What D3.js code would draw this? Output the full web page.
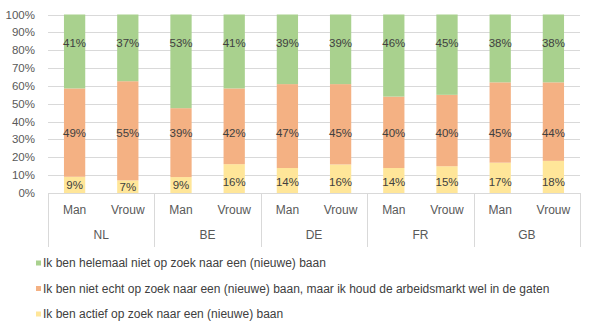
<!DOCTYPE html>
<html>
<head>
<meta charset="utf-8">
<script src="https://cdn.jsdelivr.net/npm/d3@7"></script>
<style>
  html, body { margin: 0; padding: 0; background: #fff; }
  svg { display: block; font-family: "Liberation Sans", Arial, sans-serif; }
</style>
</head>
<body>
<svg id="chart" width="592" height="330"></svg>
<script>
// Countries and respondent groups
const countries = ["NL", "BE", "DE", "FR", "GB"];
const genders = ["Man", "Vrouw"];

// Shares per group (Man, Vrouw for each country in order), in percent
const actief      = [9, 7, 9, 16, 14, 16, 14, 15, 17, 18];
const nietEcht    = [49, 55, 39, 42, 47, 45, 40, 40, 45, 44];
const helemaalNiet = [41, 37, 53, 41, 39, 39, 46, 45, 38, 38];

const seriesNames = [
  "Ik ben actief op zoek naar een (nieuwe) baan",
  "Ik ben niet echt op zoek naar een (nieuwe) baan, maar ik houd de arbeidsmarkt wel in de gaten",
  "Ik ben helemaal niet op zoek naar een (nieuwe) baan"
];
const yTicks = [0, 0.1, 0.2, 0.3, 0.4, 0.5, 0.6, 0.7, 0.8, 0.9, 1.0];

const colors = ["#ffe699", "#f4b183", "#a9d18e"];
const keys = ["actief", "nietEcht", "helemaalNiet"];

// Build row table for the stack layout
const rows = [];
countries.forEach((c, ci) => {
  genders.forEach((g, gi) => {
    const i = ci * 2 + gi;
    rows.push({ id: c + "|" + g, country: c, gender: g,
      actief: actief[i], nietEcht: nietEcht[i], helemaalNiet: helemaalNiet[i] });
  });
});

const svg = d3.select("#chart");
const plotLeft = 48, plotRight = 580, plotTop = 14.5, plotBottom = 193;

const x = d3.scaleBand().domain(rows.map(d => d.id))
  .range([plotLeft, plotRight]).paddingInner(0.6).paddingOuter(0.3);
const xc = d3.scaleBand().domain(countries).range([plotLeft, plotRight]).padding(0);
const y = d3.scaleLinear().domain([0, 1]).range([plotBottom, plotTop]);

// Gridlines
svg.append("g").selectAll("line").data(yTicks).join("line")
  .attr("x1", plotLeft).attr("x2", plotRight)
  .attr("y1", d => Math.round(y(d)) + 0.5).attr("y2", d => Math.round(y(d)) + 0.5)
  .attr("stroke", "#d9d9d9").attr("stroke-width", 1);

// Y tick labels
svg.append("g").selectAll("text").data(yTicks).join("text")
  .attr("x", 35).attr("y", d => y(d)).attr("dy", "0.35em")
  .attr("text-anchor", "end").attr("font-size", 11.5).attr("fill", "#595959")
  .text(d3.format(".0%"));

// Stacked bars, normalised to 100%
const stack = d3.stack().keys(keys).offset(d3.stackOffsetExpand);
const layers = stack(rows);

const barG = svg.append("g");
layers.forEach((layer, li) => {
  barG.append("g").selectAll("rect").data(layer).join("rect")
    .attr("x", d => x(d.data.id))
    .attr("width", x.bandwidth())
    .attr("y", d => y(d[1]))
    .attr("height", d => y(d[0]) - y(d[1]))
    .attr("fill", colors[li]);
});

// Data labels
const labelLevel = [0.06, 0.335, 0.84];
layers.forEach((layer, li) => {
  svg.append("g").selectAll("text").data(layer).join("text")
    .attr("x", d => x(d.data.id) + x.bandwidth() / 2)
    .attr("y", d => {
      if (li === 0) return Math.max((y(d[0]) + y(d[1])) / 2, y(labelLevel[0]));
      return y(labelLevel[li]);
    })
    .attr("dy", "0.35em").attr("text-anchor", "middle")
    .attr("font-size", 11.5).attr("fill", "#404040")
    .text(d => d.data[keys[li]] + "%");
});

// Category axis: baseline, separators, labels
svg.append("line").attr("x1", plotLeft).attr("x2", plotRight)
  .attr("y1", plotBottom + 0.5).attr("y2", plotBottom + 0.5).attr("stroke", "#d9d9d9");
const seps = countries.map(c => xc(c)).concat([plotRight]);
svg.append("g").selectAll("line").data(seps).join("line")
  .attr("x1", d => Math.round(d) + 0.5).attr("x2", d => Math.round(d) + 0.5)
  .attr("y1", plotBottom).attr("y2", 247)
  .attr("stroke", "#d9d9d9");
svg.append("g").selectAll("text").data(rows).join("text")
  .attr("x", d => x(d.id) + x.bandwidth() / 2).attr("y", 210).attr("dy", "0.35em")
  .attr("text-anchor", "middle").attr("font-size", 12).attr("fill", "#595959")
  .text(d => d.gender);
svg.append("g").selectAll("text").data(countries).join("text")
  .attr("x", d => xc(d) + xc.bandwidth() / 2).attr("y", 235).attr("dy", "0.35em")
  .attr("text-anchor", "middle").attr("font-size", 12).attr("fill", "#595959")
  .text(d => d);

// Legend (top series first)
const legendOrder = [2, 1, 0];
const lg = svg.append("g").selectAll("g").data(legendOrder).join("g")
  .attr("transform", (d, i) => `translate(36, ${263 + i * 25.5})`);
lg.append("rect").attr("x", 0).attr("y", -2.5).attr("width", 5).attr("height", 5)
  .attr("fill", d => colors[d]);
lg.append("text").attr("x", 7).attr("y", 0).attr("dy", "0.35em")
  .attr("font-size", 12).attr("fill", "#404040")
  .text(d => seriesNames[d]);
</script>
</body>
</html>
